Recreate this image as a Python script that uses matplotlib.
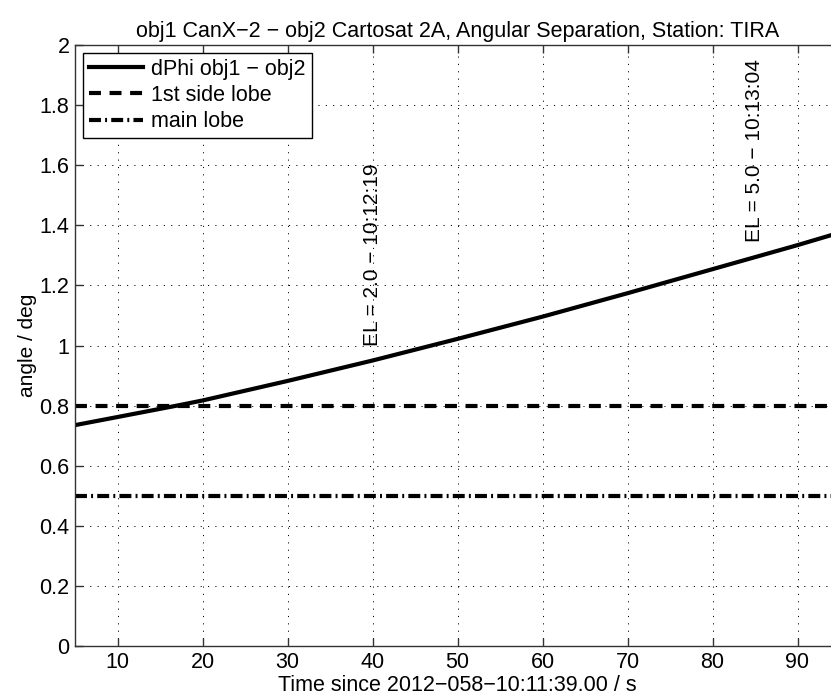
import matplotlib

matplotlib.use("Agg")
import matplotlib.pyplot as plt

plt.rcParams["font.family"] = ["Liberation Sans", "DejaVu Sans"]
plt.rcParams["lines.scale_dashes"] = False

# angular separation
time_s = [5, 10, 17, 20, 30, 40, 50, 60, 70, 80, 90, 95]
dphi_deg = [0.735, 0.762, 0.80, 0.817, 0.882, 0.95, 1.022, 1.096, 1.174, 1.254, 1.334, 1.376]

side_lobe = 0.8
main_lobe = 0.5

# elevation markers: time, text anchor angle, label
el_times = [40, 85]
el_angles = [1.0, 1.345]
el_labels = ["EL = 2.0 \u2212 10:12:19", "EL = 5.0 \u2212 10:13:04"]

x_ticks = [10, 20, 30, 40, 50, 60, 70, 80, 90]
y_ticks = [0, 0.2, 0.4, 0.6, 0.8, 1.0, 1.2, 1.4, 1.6, 1.8, 2.0]
y_tick_labels = ["0", "0.2", "0.4", "0.6", "0.8", "1", "1.2", "1.4", "1.6", "1.8", "2"]

fig = plt.figure(figsize=(8.31, 6.99), dpi=100)
ax = fig.add_axes([75 / 831, 53 / 699, 765 / 831, 601 / 699])

ax.plot(time_s, dphi_deg, color="black", lw=3, label="dPhi obj1 \u2212 obj2")
ax.axhline(side_lobe, color="black", lw=3, dashes=(8.6, 6.2), label="1st side lobe")
ax.axhline(main_lobe, color="black", lw=3, dashes=(8.6, 3.0, 1.4, 3.0), label="main lobe")

for t, a, txt in zip(el_times, el_angles, el_labels):
    ax.text(t, a, txt, rotation=90, ha="center", va="bottom", fontsize=15)

ax.set_xlim(5, 95)
ax.set_ylim(0, 2)
ax.set_xticks(x_ticks)
ax.set_yticks(y_ticks)
ax.set_yticklabels(y_tick_labels)
ax.tick_params(direction="in", length=6, width=1, labelsize=15.5, top=True, right=True,
               color="#333333", pad=4)
ax.grid(True, color="black", lw=0.7, dashes=(0.8, 4.5))
for s in ax.spines.values():
    s.set_color("#333333")
    s.set_linewidth(1)

ax.set_title("obj1 CanX\u22122 \u2212 obj2 Cartosat 2A, Angular Separation, Station: TIRA",
             fontsize=15.5, pad=6)
ax.set_xlabel("Time since 2012\u2212058\u221210:11:39.00 / s", fontsize=15.5, labelpad=2)
ax.set_ylabel("angle / deg", fontsize=15, labelpad=2)

leg = ax.legend(loc="upper left", fontsize=15.5, handlelength=2.55, fancybox=False,
                borderaxespad=0.35, labelspacing=0.25, handletextpad=0.35, borderpad=0.28,
                framealpha=1)
leg.get_frame().set_edgecolor("black")
leg.get_frame().set_linewidth(1)

fig.savefig("out.png", dpi=100)
